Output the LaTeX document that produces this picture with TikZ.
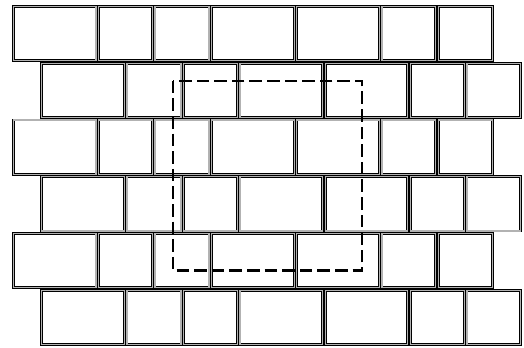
\documentclass[tikz,border=0pt]{standalone}
\begin{document}
\begin{tikzpicture}[x=0.75pt,y=-0.75pt,
  brick/.style={draw=black,line width=0.6pt,double=gray!60,double distance=0.9pt},
  frame/.style={draw=black,line width=1.6pt,dash pattern=on 9.4pt off 3.8pt}]
\useasboundingbox (0,0) rectangle (524,347);
\fill[white] (0,0) rectangle (524,347);
\foreach \r in {0,...,5}{
  \pgfmathsetmacro{\ytop}{5+56.8*\r}
  \pgfmathsetmacro{\ybot}{\ytop+56.8}
  \pgfmathsetmacro{\xs}{ifthenelse(mod(\r,2)==0,12,40.5)}
  \foreach \a/\b in {0/85.2,85.2/141.7,141.7/198.2,198.2/283.4,283.4/368.6,368.6/425.1,425.1/481.6}{
    \draw[brick] (\xs+\a+1.3,\ytop+1.3) rectangle (\xs+\b-1.3,\ybot-1.3);
  }
}
\coordinate (f1) at (172.7,80.8);
\coordinate (f2) at (362,270.5);
\draw[frame] (f1) rectangle (f2);
\end{tikzpicture}
\end{document}
